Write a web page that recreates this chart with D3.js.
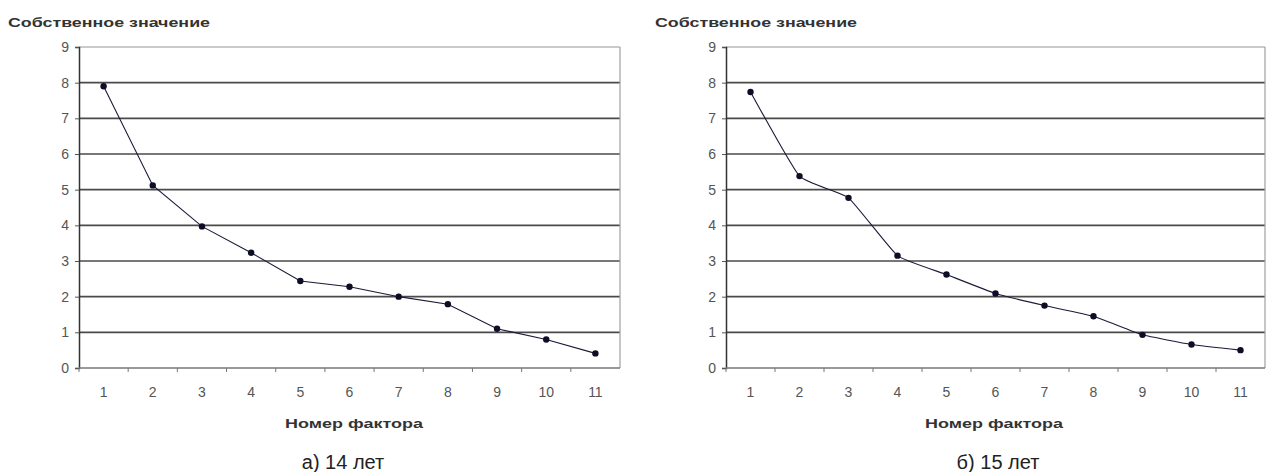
<!DOCTYPE html>
<html>
<head>
<meta charset="utf-8">
<script src="https://cdn.jsdelivr.net/npm/d3@7"></script>
<style>
  body { margin: 0; background: #fff; }
  svg text { font-family: "Liberation Sans", Arial, sans-serif; }
</style>
</head>
<body>
<script>
// factor numbers on the x axis
let factors = ["1", "2", "3", "4", "5", "6", "7", "8", "9", "10", "11"];
// eigenvalues
let values14 = [7.9, 5.12, 3.97, 3.23, 2.44, 2.28, 2.0, 1.79, 1.1, 0.8, 0.41];
let values15 = [7.74, 5.38, 4.77, 3.15, 2.62, 2.09, 1.75, 1.45, 0.93, 0.66, 0.5];
let yTicks = [0, 1, 2, 3, 4, 5, 6, 7, 8, 9];
let captions = ["а) 14 лет", "б) 15 лет"];

let w = 1268;
let h = 472;

let svg = d3.select("body")
    .append("svg")
    .attr("width", w)
    .attr("height", h);

let drawChart = function(values, left, right, curve, titleX, axisTitleX, caption, captionX) {
    let top = 47, bottom = 368;

    let xScale = d3.scaleBand()
        .domain(factors)
        .range([left, right]);

    let yScale = d3.scaleLinear()
        .domain([0, 9])
        .range([bottom, top]);

    let g = svg.append("g");

    // gridlines
    g.selectAll("line.grid")
        .data(yTicks.filter(function(d) { return d > 0; }))
        .enter()
        .append("line")
        .attr("class", "grid")
        .attr("x1", left)
        .attr("x2", right)
        .attr("y1", function(d) { return yScale(d); })
        .attr("y2", function(d) { return yScale(d); })
        .attr("stroke", function(d) { return d === 9 ? "#b8b8b8" : "#4a4a4a"; })
        .attr("stroke-width", function(d) { return d === 9 ? 1.5 : 1.6; });

    // plot area right border
    g.append("line")
        .attr("x1", right).attr("x2", right)
        .attr("y1", top).attr("y2", bottom)
        .attr("stroke", "#a0a0a0")
        .attr("stroke-width", 1.2);

    // y axis
    let yAxis = d3.axisLeft(yScale)
        .tickValues(yTicks)
        .tickSize(4)
        .tickPadding(6);

    let ya = g.append("g")
        .attr("transform", "translate(" + left + ",0)")
        .call(yAxis);
    ya.select(".domain").attr("stroke", "#333").attr("stroke-width", 1.5);
    ya.selectAll(".tick line").attr("stroke", "#555");
    ya.selectAll("text")
        .attr("font-size", "14px")
        .attr("fill", "#555");

    // x axis with ticks between categories
    let xa = g.append("g")
        .attr("transform", "translate(0," + bottom + ")");
    xa.append("line")
        .attr("x1", left).attr("x2", right)
        .attr("stroke", "#777")
        .attr("stroke-width", 1.5);
    xa.selectAll("line.tk")
        .data(factors)
        .enter()
        .append("line")
        .attr("class", "tk")
        .attr("x1", function(d) { return xScale(d); })
        .attr("x2", function(d) { return xScale(d); })
        .attr("y1", 0)
        .attr("y2", 4)
        .attr("stroke", "#777");
    xa.selectAll("text")
        .data(factors)
        .enter()
        .append("text")
        .attr("x", function(d) { return xScale(d) + xScale.bandwidth() / 2; })
        .attr("y", 29)
        .attr("text-anchor", "middle")
        .attr("font-size", "14px")
        .attr("fill", "#555")
        .text(function(d) { return d; });

    // series line
    let line = d3.line()
        .x(function(d, i) { return xScale(factors[i]) + xScale.bandwidth() / 2; })
        .y(function(d) { return yScale(d); })
        .curve(curve);

    g.append("path")
        .datum(values)
        .attr("d", line)
        .attr("fill", "none")
        .attr("stroke", "#1a1a3a")
        .attr("stroke-width", 1.1);

    g.selectAll("circle.mark")
        .data(values)
        .enter()
        .append("circle")
        .attr("class", "mark")
        .attr("cx", function(d, i) { return xScale(factors[i]) + xScale.bandwidth() / 2; })
        .attr("cy", function(d) { return yScale(d); })
        .attr("r", 3.2)
        .attr("fill", "#0d0d26");

    // titles
    g.append("text")
        .attr("x", titleX)
        .attr("y", 27)
        .attr("font-size", "12px")
        .attr("font-weight", "bold")
        .attr("fill", "#333")
        .attr("textLength", 202)
        .attr("lengthAdjust", "spacingAndGlyphs")
        .text("Собственное значение");

    g.append("text")
        .attr("x", axisTitleX)
        .attr("y", 428)
        .attr("text-anchor", "middle")
        .attr("font-size", "13px")
        .attr("font-weight", "bold")
        .attr("fill", "#333")
        .attr("textLength", 138)
        .attr("lengthAdjust", "spacingAndGlyphs")
        .text("Номер фактора");

    g.append("text")
        .attr("x", captionX)
        .attr("y", 469)
        .attr("text-anchor", "middle")
        .attr("font-size", "20px")
        .attr("fill", "#222")
        .text(caption);
};

drawChart(values14, 79, 620, d3.curveLinear, 8, 354, captions[0], 343);
drawChart(values15, 726, 1265, d3.curveCardinal.tension(0.6), 655, 994, captions[1], 998);
</script>
</body>
</html>
